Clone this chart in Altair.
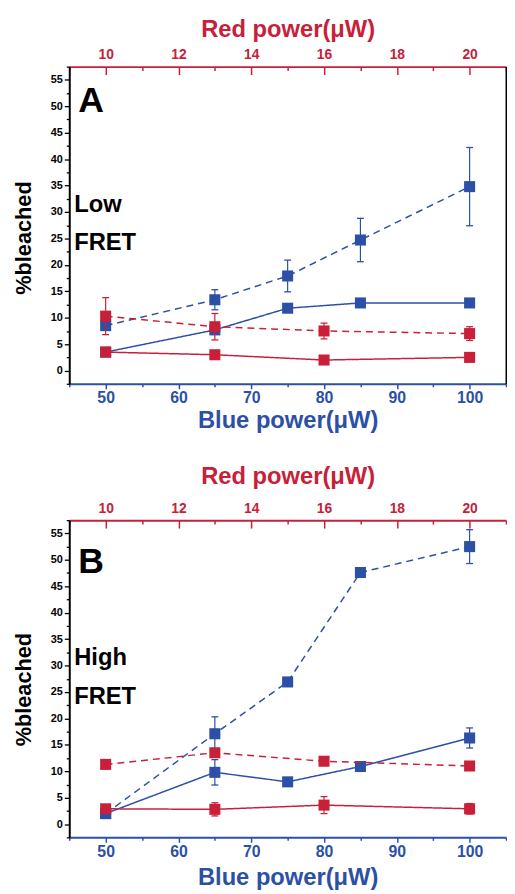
import altair as alt
import pandas as pd

# ---------------- data ----------------
blue_power = [50, 65, 75, 85, 100]
red_power = [10, 13, 16, 20]

# Panel A (Low FRET)
a_blue_dashed = [8.5, 13.4, 17.9, 24.7, 34.8]
a_blue_dashed_err = [0.6, 1.9, 3.0, 4.1, 7.4]
a_blue_solid = [3.5, 7.7, 11.8, 12.8, 12.8]
a_blue_solid_err = [0.3, 0.3, 0.3, 0.3, 0.3]
a_red_dashed = [10.3, 8.3, 7.5, 7.0]
a_red_dashed_err = [3.5, 2.5, 1.5, 1.3]
a_red_solid = [3.5, 3.0, 2.0, 2.5]
a_red_solid_err = [0.3, 0.3, 0.3, 0.3]

# Panel B (High FRET)
b_blue_dashed = [2.0, 17.1, 26.9, 47.6, 52.5]
b_blue_dashed_err = [0.3, 3.2, 0.5, 0.5, 3.2]
b_blue_solid = [2.0, 9.8, 8.0, 10.9, 16.3]
b_blue_solid_err = [0.3, 2.4, 0.4, 0.5, 1.9]
b_red_dashed = [11.3, 13.5, 11.9, 11.0]
b_red_dashed_err = [0.3, 0.5, 0.3, 0.3]
b_red_solid = [2.9, 2.8, 3.6, 2.9]
b_red_solid_err = [0.6, 1.25, 1.6, 1.0]

y_ticks = [-2.5 + 2.5 * i for i in range(25)]
blue_ticks = [45 + 5 * i for i in range(13)]
red_ticks = list(range(9, 22))

BLUE = "#2b50a6"
RED = "#c9203a"
FONT = "Liberation Sans"


def frame(xs, series_list):
    rows = []
    for name, ys, es in series_list:
        for x, y, e in zip(xs, ys, es):
            rows.append({"x": x, "y": y, "lo": y - e, "hi": y + e, "series": name})
    return pd.DataFrame(rows)


def make_panel(df_blue, df_red, letter, word1, word2, right_border,
               top_title_y, bottom_title_y, letter_y, ytitle_y, inward):
    yscale = alt.Scale(domain=[-2.5, 57.5], nice=False, zero=False)
    left_axis = alt.Axis(
        values=y_ticks,
        labelExpr="datum.value % 5 === 0 && datum.value >= 0 ? datum.label : ''",
        tickSize={"condition": {"test": "datum.value % 5 === 0", "value": 5}, "value": 3},
        tickColor="black", tickWidth=1.3, domainColor="black", domainWidth=2,
        labelFont=FONT, labelFontSize=11, labelFontWeight="bold", labelColor="black",
        labelPadding=2, grid=False,
        title="%bleached", titleFont=FONT, titleFontSize=22, titleFontWeight="bold",
        titleColor="black", titleX=-46, titleY=ytitle_y, titleBaseline="middle",
        titleAngle=270,
    )
    right_axis = alt.Axis(
        orient="right", labels=False, ticks=False, grid=False, title=None,
        domain=right_border, domainColor="black", domainWidth=2,
    )
    bottom_axis = alt.Axis(
        orient="bottom", values=blue_ticks,
        labelExpr="datum.value % 10 === 0 && datum.value >= 50 && datum.value <= 100 ? datum.label : ''",
        tickSize={"condition": {"test": "datum.value % 10 === 0", "value": 5}, "value": 3},
        tickColor=BLUE, tickWidth=1.5, domainColor=BLUE, domainWidth=2,
        labelFont=FONT, labelFontSize=16, labelFontWeight="bold", labelColor=BLUE,
        labelPadding=1, grid=False,
        title="Blue power(\u03bcW)", titleFont=FONT, titleFontSize=24,
        titleFontWeight="bold", titleColor=BLUE, titleY=bottom_title_y,
        titleBaseline="middle",
    )
    if inward:
        top_ts = {"condition": {"test": "datum.value % 2 === 0", "value": -8}, "value": -4}
        top_pad = 13
    else:
        top_ts = {"condition": {"test": "datum.value % 2 === 0", "value": 5}, "value": 3}
        top_pad = 2
    top_axis = alt.Axis(
        orient="top", values=red_ticks,
        labelExpr="datum.value % 2 === 0 && datum.value >= 10 && datum.value <= 20 ? datum.label : ''",
        tickSize=top_ts,
        tickColor=RED, tickWidth=1.5, domainColor=RED, domainWidth=2,
        labelFont=FONT, labelFontSize=14, labelFontWeight="bold", labelColor=RED,
        labelPadding=top_pad, grid=False,
        title="Red power(\u03bcW)", titleFont=FONT, titleFontSize=24,
        titleFontWeight="bold", titleColor=RED, titleY=top_title_y,
        titleBaseline="middle",
    )
    dash = alt.StrokeDash(
        "series:N",
        scale=alt.Scale(domain=["solid", "dashed"], range=[[1, 0], [7, 5]]),
        legend=None,
    )

    def group(df, color, xscale, xaxis, yaxis):
        xe = alt.X("x:Q", scale=xscale, axis=xaxis)

        def ye(field):
            return alt.Y(f"{field}:Q", scale=yscale, axis=yaxis)

        base = alt.Chart(df)
        line = base.mark_line(color=color, strokeWidth=1.5).encode(
            x=xe, y=ye("y"), strokeDash=dash, detail="series:N")
        rule = base.mark_rule(color=color, strokeWidth=1.2).encode(
            x=xe, y=ye("lo"), y2="hi:Q")
        cap_lo = base.mark_tick(orient="horizontal", size=7, thickness=1.3,
                                color=color, opacity=1).encode(x=xe, y=ye("lo"))
        cap_hi = base.mark_tick(orient="horizontal", size=7, thickness=1.3,
                                color=color, opacity=1).encode(x=xe, y=ye("hi"))
        pts = base.mark_point(shape="square", filled=True, size=125,
                              color=color, opacity=1).encode(x=xe, y=ye("y"))
        return alt.layer(line, rule, cap_lo, cap_hi, pts)

    blue_g = group(df_blue, BLUE,
                   alt.Scale(domain=[45, 105], nice=False, zero=False),
                   bottom_axis, left_axis)
    red_g = group(df_red, RED,
                  alt.Scale(domain=[9, 21], nice=False, zero=False),
                  top_axis, right_axis)

    labels = pd.DataFrame({
        "t": [letter, word1, word2],
        "px": [9, 5, 5],
        "py": [letter_y, 140, 179],
        "fs": [36, 24, 24],
    })
    txt = alt.Chart(labels).mark_text(
        font=FONT, fontWeight="bold", color="black", align="left",
        baseline="middle",
    ).encode(
        text="t:N",
        x=alt.X("px:Q", scale=None),
        y=alt.Y("py:Q", scale=None),
        size=alt.Size("fs:Q", scale=None, legend=None),
    )

    return alt.layer(blue_g, red_g, txt).resolve_scale(
        x="independent").resolve_axis(x="independent", y="independent").properties(
        width=442, height=321)


dfA_blue = frame(blue_power, [("dashed", a_blue_dashed, a_blue_dashed_err),
                              ("solid", a_blue_solid, a_blue_solid_err)])
dfA_red = frame(red_power, [("dashed", a_red_dashed, a_red_dashed_err),
                            ("solid", a_red_solid, a_red_solid_err)])
dfB_blue = frame(blue_power, [("dashed", b_blue_dashed, b_blue_dashed_err),
                              ("solid", b_blue_solid, b_blue_solid_err)])
dfB_red = frame(red_power, [("dashed", b_red_dashed, b_red_dashed_err),
                            ("solid", b_red_solid, b_red_solid_err)])


def build(inward):
    panelA = make_panel(dfA_blue, dfA_red, "A", "Low", "FRET", True,
                        -37.5, 37, 35, 173, inward)
    panelB = make_panel(dfB_blue, dfB_red, "B", "High", "FRET", False,
                        -44.5, 41, 42, 171, inward)
    return alt.vconcat(panelA, panelB, spacing=138, bounds="flush").properties(
        padding={"left": 5, "top": 4, "right": 0, "bottom": 0}
    ).configure_view(stroke=None)


try:
    chart = build(True)
    chart.to_dict()
except Exception:
    chart = build(False)

chart.save("out.html", embed_options={"renderer": "svg", "actions": False})
